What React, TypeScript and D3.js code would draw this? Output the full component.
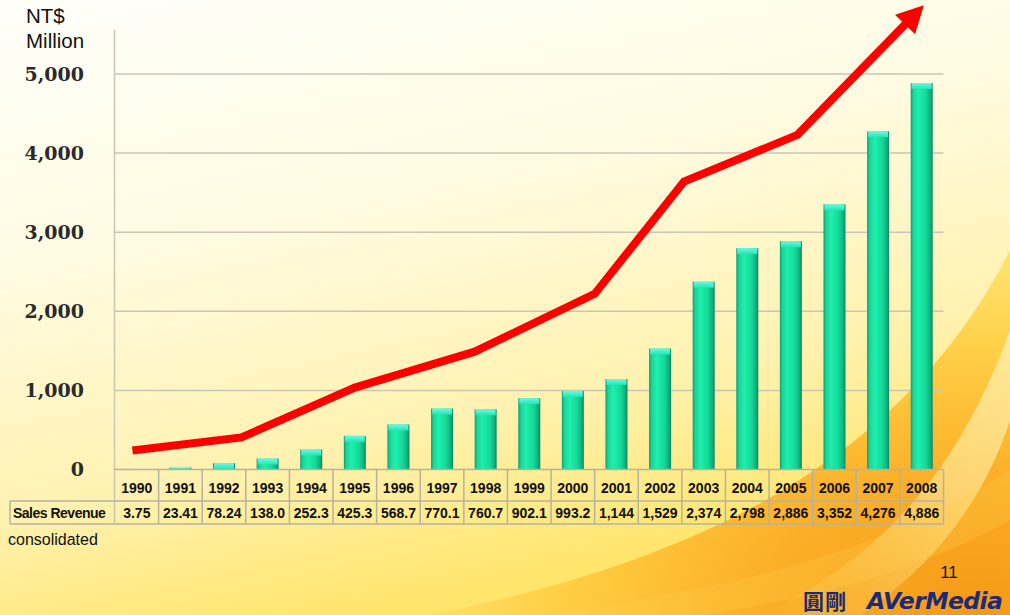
import React from "react";
import * as d3 from "d3";

const W = 1010;
const H = 615;

const years = ["1990","1991","1992","1993","1994","1995","1996","1997","1998","1999","2000","2001","2002","2003","2004","2005","2006","2007","2008"];
const revenue = [3.75, 23.41, 78.24, 138.0, 252.3, 425.3, 568.7, 770.1, 760.7, 902.1, 993.2, 1144, 1529, 2374, 2798, 2886, 3352, 4276, 4886];
const revenueLabels = ["3.75","23.41","78.24","138.0","252.3","425.3","568.7","770.1","760.7","902.1","993.2","1,144","1,529","2,374","2,798","2,886","3,352","4,276","4,886"];
const yTicks = [0, 1000, 2000, 3000, 4000, 5000];
// decorative growth arrow: [year position, value]
const trendYear = [1989.9, 1992.4, 1995.0, 1997.75, 2000.5, 2002.55, 2005.15, 2008.05];
const trendValue = [240, 405, 1035, 1490, 2220, 3640, 4230, 5870];

export default function App() {
  const x = d3.scaleBand<string>().domain(years).range([115, 943.5]).paddingInner(0).paddingOuter(0);
  const bw = x.bandwidth();
  const y = d3.scaleLinear().domain([0, 5000]).range([469.5, 74]);
  const xl = d3.scaleLinear().domain([1990, 2008]).range([x("1990")! + bw / 2, x("2008")! + bw / 2]);
  const barW = 22;
  const tableLeft = 10;
  const tableRight = 943.5;
  const rowMid = 501;
  const rowBot = 524;
  const axisTop = 30;

  const pts: [number, number][] = trendYear.map((t, i) => [xl(t), y(trendValue[i])]);
  const tip = pts[pts.length - 1];
  const prev = pts[pts.length - 2];
  const dx = tip[0] - prev[0], dy = tip[1] - prev[1];
  const len = Math.hypot(dx, dy);
  const ux = dx / len, uy = dy / len;
  const headLen = 27, headHalf = 14;
  const base: [number, number] = [tip[0] - ux * headLen, tip[1] - uy * headLen];
  const linePts = [...pts.slice(0, -1), [tip[0] - ux * (headLen - 4), tip[1] - uy * (headLen - 4)] as [number, number]];
  const line = d3.line();
  const head = [
    tip,
    [base[0] - uy * headHalf, base[1] + ux * headHalf],
    [base[0] + uy * headHalf, base[1] - ux * headHalf],
  ];

  const grid = "#c9c6b4";
  const tbl = "#b4b2a2";
  const sans = "'Liberation Sans', Arial, sans-serif";

  return (
    <svg width={W} height={H} style={{ position: "absolute", left: 0, top: 0 }} xmlns="http://www.w3.org/2000/svg">
      <defs>
        <linearGradient id="bg" x1="0" y1="0" x2="0.35" y2="1">
          <stop offset="0" stopColor="#fffffa" />
          <stop offset="0.4" stopColor="#fffbe2" />
          <stop offset="0.75" stopColor="#fff2b0" />
          <stop offset="1" stopColor="#ffe56c" />
        </linearGradient>
        <radialGradient id="orange" cx="0.95" cy="1" r="0.95">
          <stop offset="0" stopColor="#f59510" />
          <stop offset="0.4" stopColor="#fbac24" />
          <stop offset="0.75" stopColor="#ffcc40" />
          <stop offset="1" stopColor="#ffe066" />
        </radialGradient>
        <linearGradient id="swoosh" x1="0" y1="1" x2="1" y2="0">
          <stop offset="0" stopColor="#ffe97a" stopOpacity="0" />
          <stop offset="0.6" stopColor="#fff2a8" stopOpacity="0.8" />
          <stop offset="1" stopColor="#fff8cc" stopOpacity="0.9" />
        </linearGradient>
        <linearGradient id="barBody" x1="0" y1="0" x2="1" y2="0">
          <stop offset="0" stopColor="#0c9e74" />
          <stop offset="0.12" stopColor="#1bd49c" />
          <stop offset="0.35" stopColor="#1ff0ac" />
          <stop offset="0.7" stopColor="#14d898" />
          <stop offset="0.9" stopColor="#0fae7c" />
          <stop offset="1" stopColor="#0a8460" />
        </linearGradient>
        <linearGradient id="barTop" x1="0" y1="0" x2="0" y2="1">
          <stop offset="0" stopColor="#6ff8e4" />
          <stop offset="1" stopColor="#22e6b4" />
        </linearGradient>
      </defs>

      {/* background */}
      <rect x={0} y={0} width={W} height={H} fill="url(#bg)" />
      <path d={`M 430 ${H} C 680 565, 900 470, ${W} 250 L ${W} ${H} Z`} fill="url(#orange)" opacity={0.95} />
      <path d={`M 760 ${H} C 880 560, 960 470, ${W} 330 L ${W} 420 C 985 500, 930 570, 860 ${H} Z`} fill="url(#swoosh)" opacity={0.7} />
      <path d={`M 520 ${H} C 760 590, 900 540, ${W} 470 L ${W} 520 C 900 580, 800 600, 700 ${H} Z`} fill="#ffd04a" opacity={0.25} />

      {/* gridlines */}
      {yTicks.filter(t => t > 0).map(t => (
        <line key={t} x1={114} x2={tableRight} y1={y(t)} y2={y(t)} stroke={grid} strokeWidth={1.5} />
      ))}
      <line x1={114.5} x2={114.5} y1={axisTop} y2={rowBot} stroke={grid} strokeWidth={1.5} />

      {/* y tick labels */}
      {yTicks.map(t => (
        <text key={t} x={84} y={y(t)} dy="0.36em" textAnchor="end" fontFamily="'DejaVu Serif', 'Liberation Serif', serif" fontWeight="bold" fontSize={19} fill="#2a2a2a">
          {d3.format(",")(t)}
        </text>
      ))}

      {/* bars */}
      {years.map((yr, i) => {
        const cx = x(yr)! + bw / 2;
        const top = y(revenue[i]);
        const h = y(0) - top;
        const cap = Math.min(6, h);
        return (
          <g key={yr}>
            <rect x={cx - barW / 2} y={top} width={barW} height={h} fill="url(#barBody)" />
            <rect x={cx - barW / 2 + 1} y={top} width={barW - 2} height={cap} fill="url(#barTop)" />
          </g>
        );
      })}

      {/* trend arrow */}
      <path d={line(linePts) || ""} fill="none" stroke="#ff0000" strokeWidth={8} strokeLinejoin="miter" strokeLinecap="butt" />
      <polygon points={head.map(p => p.join(",")).join(" ")} fill="#ff0000" />

      {/* table */}
      <line x1={114} x2={tableRight} y1={y(0)} y2={y(0)} stroke={tbl} strokeWidth={1.5} />
      <line x1={tableLeft} x2={tableRight} y1={rowMid} y2={rowMid} stroke={tbl} strokeWidth={1.5} />
      <line x1={tableLeft} x2={tableRight} y1={rowBot} y2={rowBot} stroke={tbl} strokeWidth={1.5} />
      <line x1={tableLeft} x2={tableLeft} y1={rowMid} y2={rowBot} stroke={tbl} strokeWidth={1.5} />
      {years.map(yr => (
        <line key={yr} x1={x(yr)! + bw} x2={x(yr)! + bw} y1={y(0)} y2={rowBot} stroke={tbl} strokeWidth={1.5} />
      ))}
      <text x={13} y={(rowMid + rowBot) / 2} dy="0.36em" fontFamily={sans} fontWeight="bold" fontSize={14} fill="#111" letterSpacing={-0.5}>
        Sales Revenue
      </text>
      {years.map((yr, i) => (
        <g key={yr} fontFamily={sans} fontWeight="bold" fontSize={14} fill="#111" textAnchor="middle">
          <text x={x(yr)! + bw / 2} y={(y(0) + rowMid) / 2 + 3} dy="0.36em">{yr}</text>
          <text x={x(yr)! + bw / 2} y={(rowMid + rowBot) / 2} dy="0.36em">{revenueLabels[i]}</text>
        </g>
      ))}

      {/* axis unit */}
      <text x={26} y={23} fontFamily={sans} fontSize={20.5} fill="#111">NT$</text>
      <text x={26} y={48} fontFamily={sans} fontSize={20.5} fill="#111">Million</text>

      <text x={8} y={545} fontFamily={sans} fontSize={16} fill="#111">consolidated</text>

      <text x={949} y={578} textAnchor="middle" fontFamily={sans} fontSize={17} fill="#111">11</text>

      {/* logo */}
      <text x={803} y={609} fontFamily="'Noto Sans CJK TC', 'Noto Sans CJK SC', sans-serif" fontWeight="bold" fontSize={21} fill="#1c2a78" letterSpacing={1}>圓剛</text>
      <text x={867} y={609} fontFamily="'DejaVu Sans', sans-serif" fontWeight="bold" fontStyle="italic" fontSize={23.5} fill="#1c2a78" letterSpacing={-0.6}>AVerMedia</text>
    </svg>
  );
}
